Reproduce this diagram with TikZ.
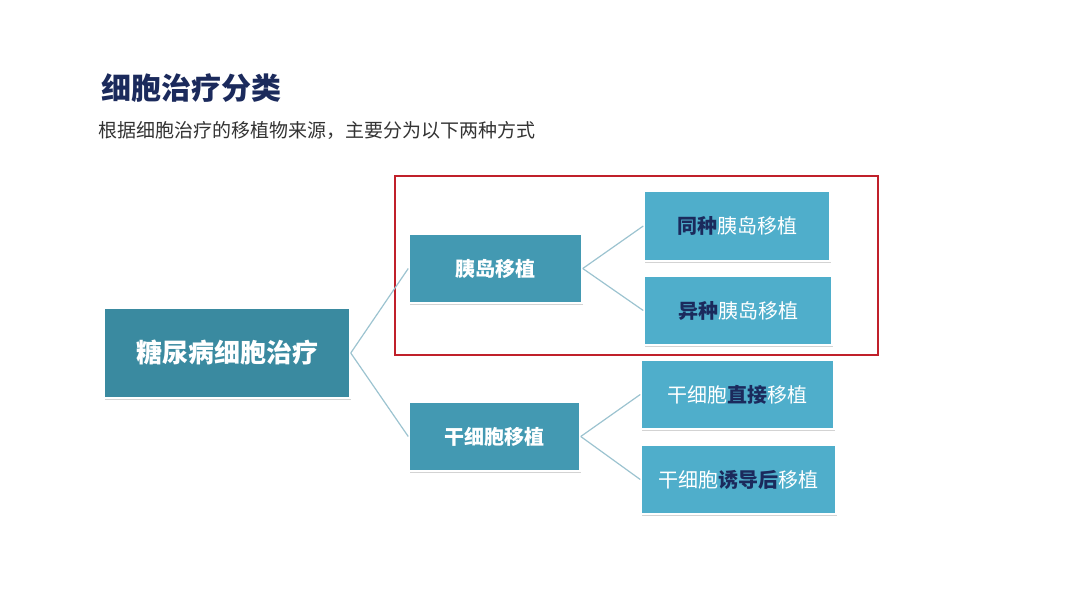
\documentclass[tikz,border=0pt]{standalone}
\usepackage{fontspec}
\usetikzlibrary{shadows}
\newfontfamily\cjk{Noto Sans CJK SC}
\newcommand\cjkb{\cjk\bfseries}
\definecolor{navy}{HTML}{1B2A5C}
\definecolor{mainc}{HTML}{3A8AA0}
\definecolor{midc}{HTML}{4399B2}
\definecolor{leafc}{HTML}{4FAECB}
\definecolor{linec}{HTML}{9CC3D0}
\definecolor{redc}{HTML}{C0202A}
\begin{document}
\begin{tikzpicture}[x=1pt,y=-1pt,
  box/.style={draw=white,line width=1.5pt,text=white,inner sep=0pt,
    drop shadow={shadow xshift=1pt,shadow yshift=-1.5pt,opacity=0.35}},
  conn/.style={draw=linec,line width=1.2pt},
  hl/.style={text=navy}]
\useasboundingbox (0,0) rectangle (1066,600);
\node[anchor=west,text=navy,font=\cjkb\fontsize{30}{34}\selectfont] (title) at (98,88) {细胞治疗分类};
\node[anchor=west,text=black!80,font=\cjk\fontsize{19}{22}\selectfont] (sub) at (95,130) {根据细胞治疗的移植物来源，主要分为以下两种方式};
\draw[redc,line width=1.2pt] (395,176) rectangle (878,355);
\node[box,fill=mainc,minimum width=246pt,minimum height=90pt,font=\cjkb\fontsize{26}{30}\selectfont] (main) at (227,353) {糖尿病细胞治疗};
\node[box,fill=midc,minimum width=173pt,minimum height=69pt,font=\cjkb\fontsize{20}{24}\selectfont] (a) at (495.5,268.5) {胰岛移植};
\node[box,fill=midc,minimum width=171pt,minimum height=69pt,font=\cjkb\fontsize{20}{24}\selectfont] (b) at (494.5,436.5) {干细胞移植};
\node[box,fill=leafc,minimum width=186pt,minimum height=70pt,font=\cjk\fontsize{20}{24}\selectfont] (a1) at (737,226) {{\cjkb\color{navy}同种}胰岛移植};
\node[box,fill=leafc,minimum width=188pt,minimum height=69pt,font=\cjk\fontsize{20}{24}\selectfont] (a2) at (738,310.5) {{\cjkb\color{navy}异种}胰岛移植};
\node[box,fill=leafc,minimum width=193pt,minimum height=69pt,font=\cjk\fontsize{20}{24}\selectfont] (b1) at (737.5,394.5) {干细胞{\cjkb\color{navy}直接}移植};
\node[box,fill=leafc,minimum width=195pt,minimum height=69pt,font=\cjk\fontsize{20}{24}\selectfont] (b2) at (738.5,479.5) {干细胞{\cjkb\color{navy}诱导后}移植};
\draw[conn] (main.east) -- (a.west);
\draw[conn] (main.east) -- (b.west);
\draw[conn] (a.east) -- (a1.west);
\draw[conn] (a.east) -- (a2.west);
\draw[conn] (b.east) -- (b1.west);
\draw[conn] (b.east) -- (b2.west);
\end{tikzpicture}
\end{document}
